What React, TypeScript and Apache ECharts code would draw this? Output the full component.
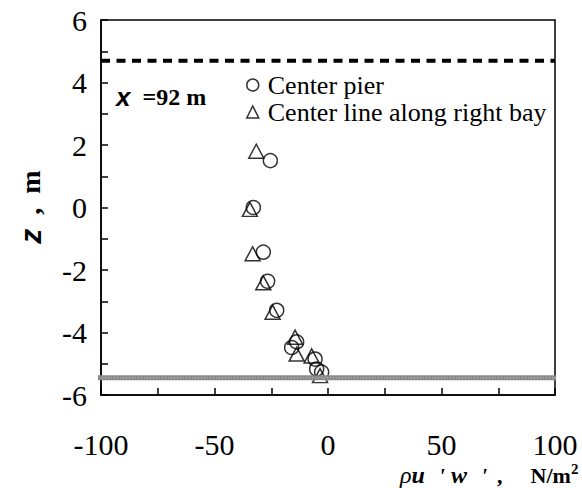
import React, { useEffect, useRef } from "react";
import * as echarts from "echarts";

const pierData: number[][] = [
  [-25.4, 1.5], [-32.9, 0.0], [-28.5, -1.43], [-26.6, -2.36], [-22.6, -3.29],
  [-13.8, -4.3], [-16.0, -4.48], [-5.7, -4.85], [-5.0, -5.17], [-2.8, -5.27],
];
const bayData: number[][] = [
  [-31.6, 1.8], [-34.4, -0.06], [-33.2, -1.48], [-28.5, -2.41], [-24.4, -3.35],
  [-14.5, -4.15], [-13.8, -4.69], [-7.2, -4.75], [-3.5, -5.38],
];
const waterSurface: number[][] = [[-100, 4.7], [100, 4.7]];
const bedLevel: number[][] = [[-103.5, -5.45], [100.5, -5.45]];
const seriesNames = ["Center pier", "Center line along right bay"];

export default function App() {
  const ref = useRef<HTMLDivElement>(null);
  useEffect(() => {
    if (!ref.current) return;
    const chart = echarts.init(ref.current, undefined, { renderer: "svg" });
    const serif = "'Liberation Serif', 'Times New Roman', Times, serif";
    const sans = "'Liberation Sans', Arial, sans-serif";
    const hollow = { color: "rgba(0,0,0,0)", borderColor: "#000", borderWidth: 1.5 };
    chart.setOption({
      animation: false,
      backgroundColor: "#fff",
      textStyle: { fontFamily: serif },
      grid: {
        left: 101, right: 27, top: 20, bottom: 93,
        show: true, borderColor: "#000", borderWidth: 1.5, backgroundColor: "transparent",
      },
      xAxis: {
        type: "value", min: -100, max: 100, interval: 25,
        axisLine: { show: true, onZero: false, lineStyle: { color: "#000", width: 1.5 } },
        axisTick: { show: true, inside: true, length: 7, lineStyle: { color: "#000", width: 1.5 } },
        splitLine: { show: false },
        axisLabel: {
          margin: 34, color: "#000", fontFamily: serif, fontSize: 30,
          formatter: (v: number) => (v % 50 === 0 ? String(v) : ""),
        },
      },
      yAxis: {
        type: "value", min: -6, max: 6, interval: 1,
        axisLine: { show: true, onZero: false, lineStyle: { color: "#000", width: 1.5 } },
        axisTick: { show: true, inside: true, length: 7, lineStyle: { color: "#000", width: 1.5 } },
        splitLine: { show: false },
        axisLabel: {
          margin: 14, color: "#000", fontFamily: serif, fontSize: 30,
          formatter: (v: number) => (v % 2 === 0 ? String(v) : ""),
        },
      },
      legend: {
        orient: "vertical", left: 241, top: 67, itemGap: 1,
        itemWidth: 12, itemHeight: 12,
        textStyle: { fontFamily: serif, fontSize: 26, color: "#000", lineHeight: 24, padding: [0, 0, 0, 4] },
        data: [
          { name: seriesNames[0], icon: "circle", itemStyle: hollow },
          { name: seriesNames[1], icon: "triangle", itemStyle: hollow },
        ],
      },
      series: [
        {
          type: "line", data: waterSurface, symbol: "none", silent: true, clip: false,
          lineStyle: { color: "#000", width: 4, type: [9, 6.5] },
        },
        {
          type: "line", data: bedLevel, symbol: "none", silent: true, clip: false,
          lineStyle: { color: "#8a8a8a", width: 5 },
        },
        {
          type: "line", data: bedLevel, symbol: "none", silent: true, clip: false,
          lineStyle: { color: "#c8c8c8", width: 1, type: [1, 2] },
        },
        {
          name: seriesNames[0], type: "scatter", data: pierData, symbol: "circle",
          symbolSize: 14, itemStyle: hollow,
        },
        {
          name: seriesNames[1], type: "scatter", data: bayData, symbol: "triangle",
          symbolSize: [15, 14], itemStyle: hollow,
        },
      ],
      graphic: [
        {
          type: "text", left: 116, top: 84,
          style: {
            text: "{a|x}{b|  =92 m}",
            rich: {
              a: { fontFamily: sans, fontStyle: "italic", fontWeight: "bold", fontSize: 26, fill: "#000" },
              b: { fontFamily: serif, fontWeight: "bold", fontSize: 24, fill: "#000" },
            },
          },
        },
        {
          type: "text", x: 30, y: 207, rotation: Math.PI / 2,
          style: {
            text: "{a|z}{b|  ,  m}",
            align: "center", verticalAlign: "middle",
            rich: {
              a: { fontFamily: sans, fontStyle: "italic", fontWeight: "bold", fontSize: 30, fill: "#000" },
              b: { fontFamily: serif, fontWeight: "bold", fontSize: 28, fill: "#000" },
            },
          },
        },
        {
          type: "text", x: 400, y: 475,
          style: {
            text: "{p|ρ}{i|u}{q|'}{i|w}{r|'}{c|,}{b|N/m}",
            align: "left", verticalAlign: "middle",
            rich: {
              p: { fontFamily: serif, fontStyle: "italic", fontSize: 24, fill: "#000" },
              i: { fontFamily: serif, fontStyle: "italic", fontWeight: "bold", fontSize: 24, fill: "#000" },
              q: { fontFamily: serif, fontStyle: "italic", fontWeight: "bold", fontSize: 22, fill: "#000", padding: [0, 6, 0, 14] },
              r: { fontFamily: serif, fontStyle: "italic", fontWeight: "bold", fontSize: 22, fill: "#000", padding: [0, 0, 0, 14] },
              c: { fontFamily: serif, fontWeight: "bold", fontSize: 22, fill: "#000", padding: [0, 0, 0, 10] },
              b: { fontFamily: serif, fontWeight: "bold", fontSize: 22, fill: "#000", padding: [0, 0, 0, 28] },
            },
          },
        },
        {
          type: "text", x: 571, y: 461,
          style: {
            text: "2", fontFamily: serif, fontWeight: "bold", fontSize: 15, fill: "#000",
            align: "left", verticalAlign: "top",
          },
        },
      ],
    });
    return () => chart.dispose();
  }, []);
  return <div ref={ref} style={{ position: "fixed", left: 0, top: 0, width: 582, height: 488 }} />;
}
